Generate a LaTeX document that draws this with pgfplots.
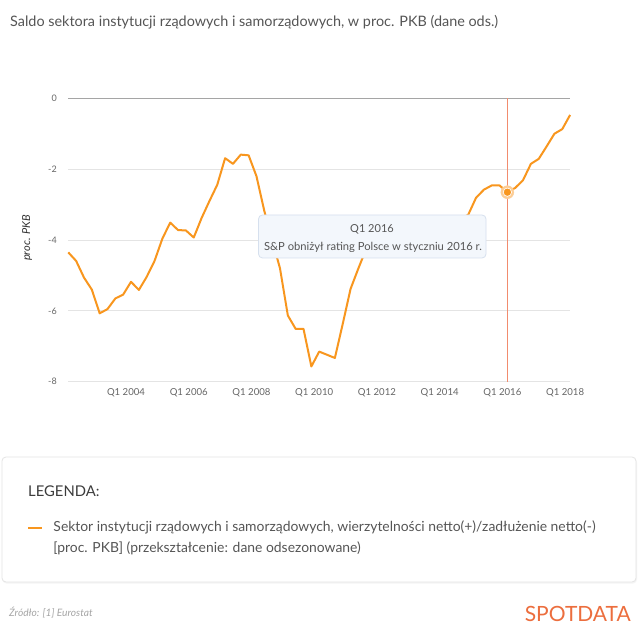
\documentclass[border=0pt]{standalone}
\usepackage{fontspec}
\setmainfont{Lato}
\usepackage{pgfplots}
\usepackage{pgfplotstable}
\pgfplotsset{compat=1.18}
\definecolor{lineor}{RGB}{248,150,30}
\definecolor{haloc}{RGB}{252,205,150}
\definecolor{gridc}{RGB}{228,228,228}
\definecolor{zeroc}{RGB}{165,165,165}
\definecolor{tickc}{RGB}{102,102,102}
\definecolor{titlec}{RGB}{85,85,85}
\definecolor{tipfill}{RGB}{243,247,252}
\definecolor{tipdraw}{RGB}{214,224,238}
\definecolor{spot}{RGB}{236,110,62}
\definecolor{boxc}{RGB}{228,228,228}
\pgfplotstableread{
x y
2002.00 -4.35
2002.25 -4.59
2002.50 -5.06
2002.75 -5.40
2003.00 -6.07
2003.25 -5.95
2003.50 -5.65
2003.75 -5.54
2004.00 -5.18
2004.25 -5.41
2004.50 -5.04
2004.75 -4.59
2005.00 -3.96
2005.25 -3.51
2005.50 -3.72
2005.75 -3.73
2006.00 -3.93
2006.25 -3.38
2006.50 -2.90
2006.75 -2.44
2007.00 -1.69
2007.25 -1.85
2007.50 -1.59
2007.75 -1.61
2008.00 -2.20
2008.25 -3.18
2008.50 -4.00
2008.75 -4.80
2009.00 -6.13
2009.25 -6.51
2009.50 -6.51
2009.75 -7.57
2010.00 -7.15
2010.25 -7.24
2010.50 -7.33
2010.75 -6.37
2011.00 -5.38
2011.25 -4.80
2011.50 -4.25
2011.75 -4.05
2012.00 -3.90
2012.25 -3.85
2012.50 -3.80
2012.75 -3.85
2013.00 -3.95
2013.25 -4.05
2013.50 -4.10
2013.75 -4.00
2014.00 -3.80
2014.25 -3.60
2014.50 -3.40
2014.75 -3.29
2015.00 -2.81
2015.25 -2.58
2015.50 -2.46
2015.75 -2.46
2016.00 -2.65
2016.25 -2.53
2016.50 -2.31
2016.75 -1.85
2017.00 -1.71
2017.25 -1.36
2017.50 -1.00
2017.75 -0.87
2018.00 -0.47
}\saldo
\begin{document}
\begin{tikzpicture}
\useasboundingbox (0pt,0pt) rectangle (640pt,-639pt);
\fill[white] (0pt,0pt) rectangle (640pt,-639pt);
% title
\node[anchor=base west, inner sep=0pt, text=titlec, font=\fontsize{14.4}{17}\selectfont] at (10pt,-27pt) {Saldo sektora instytucji rządowych i samorządowych, w proc. PKB (dane ods.)};
% legend box
\fill[black!4, rounded corners=4pt] (2.5pt,-458.5pt) rectangle (637pt,-583.5pt);
\draw[boxc, fill=white, rounded corners=4pt, line width=0.8pt] (2pt,-457pt) rectangle (636pt,-582pt);
\node[anchor=base west, inner sep=0pt, text={rgb,255:red,60;green,60;blue,60}, font=\fontsize{14.8}{17}\selectfont] at (28pt,-496.5pt) {LEGENDA:};
\begin{axis}[
  at={(68.3pt,-381.7pt)}, anchor=south west,
  scale only axis, width=501.8pt, height=283.4pt,
  xmin=2002, xmax=2018, ymin=-8, ymax=0,
  clip=false,
  axis line style={draw=none},
  major tick length=0pt,
  ymajorgrids, grid style={gridc, line width=1pt},
  xtick={2004,2006,2008,2010,2012,2014,2016,2018},
  xticklabels={Q1 2004,Q1 2006,Q1 2008,Q1 2010,Q1 2012,Q1 2014,Q1 2016,Q1 2018},
  ytick={-8,-6,-4,-2,0},
  yticklabels={-8,-6,-4,-2,0},
  xticklabel style={font=\fontsize{9.6}{11}\selectfont, text=tickc, anchor=base, yshift=-13.5pt, xshift=-5pt},
  yticklabel style={font=\fontsize{9}{11}\selectfont, text=tickc, anchor=east, xshift=-8pt},
  ylabel={proc. PKB},
  ylabel style={at={(axis description cs:-0.082,0.507)}, anchor=center, font=\itshape\fontsize{11}{13}\selectfont, text={rgb,255:red,50;green,50;blue,50}},
  legend style={at={(axis description cs:-0.0823,-0.4915)}, anchor=north west, draw=none, fill=none, inner sep=0pt, outer sep=0pt,
     nodes={inner sep=0pt, anchor=base west}, column sep=10pt,
     font=\fontsize{13.9}{20}\selectfont, text={rgb,255:red,85;green,85;blue,85}},
  legend cell align=left,
  legend image code/.code={\draw[lineor, line width=2.5pt] (0pt,3.9pt) -- (14pt,3.9pt);},
]
\addplot[draw=zeroc, line width=1.6pt, forget plot] coordinates {(2002,0) (2018,0)};
\draw[color={rgb,255:red,242;green,140;blue,110}, line width=1.4pt] (axis cs:2016,0) -- (axis cs:2016,-8);
\addplot[draw=lineor, line width=2pt, line join=round, mark=none] table[x=x, y=y] {\saldo};
\addlegendentry{\begin{minipage}[t]{590pt}\fontsize{13.9}{20.5}\selectfont Sektor instytucji rządowych i samorządowych, wierzytelności netto(+)/zadłużenie netto(-)\\\mbox{}[proc. PKB] (przekształcenie: dane odsezonowane)\end{minipage}}
\addplot[only marks, mark=*, mark size=6.5pt, mark options={fill=haloc, draw=haloc}, forget plot] coordinates {(2016,-2.65)};
\addplot[only marks, mark=*, mark size=4.2pt, mark options={fill=white, draw=white}, forget plot] coordinates {(2016,-2.65)};
\addplot[only marks, mark=*, mark size=3.4pt, mark options={fill=lineor, draw=lineor}, forget plot] coordinates {(2016,-2.65)};
\end{axis}
% tooltip
\draw[tipdraw, fill=tipfill, rounded corners=4pt, line width=0.8pt] (258.5pt,-215pt) rectangle (486pt,-258pt);
\node[anchor=base, inner sep=0pt, text=titlec, font=\fontsize{11}{13}\selectfont] at (372pt,-233pt) {Q1 2016};
\node[anchor=base, inner sep=0pt, text=titlec, font=\fontsize{11.2}{13}\selectfont] at (373pt,-251pt) {S\&P obniżył rating Polsce w styczniu 2016 r.};
% footer
\node[anchor=base west, inner sep=0pt, text={rgb,255:red,165;green,165;blue,165}, font=\itshape\fontsize{10.2}{12}\selectfont] at (9pt,-616.5pt) {Źródło: [1] Eurostat};
\node[anchor=base east, inner sep=0pt, text=spot, font=\fontsize{21}{24}\selectfont] at (631pt,-621.5pt) {SPOTDATA};
\end{tikzpicture}
\end{document}
